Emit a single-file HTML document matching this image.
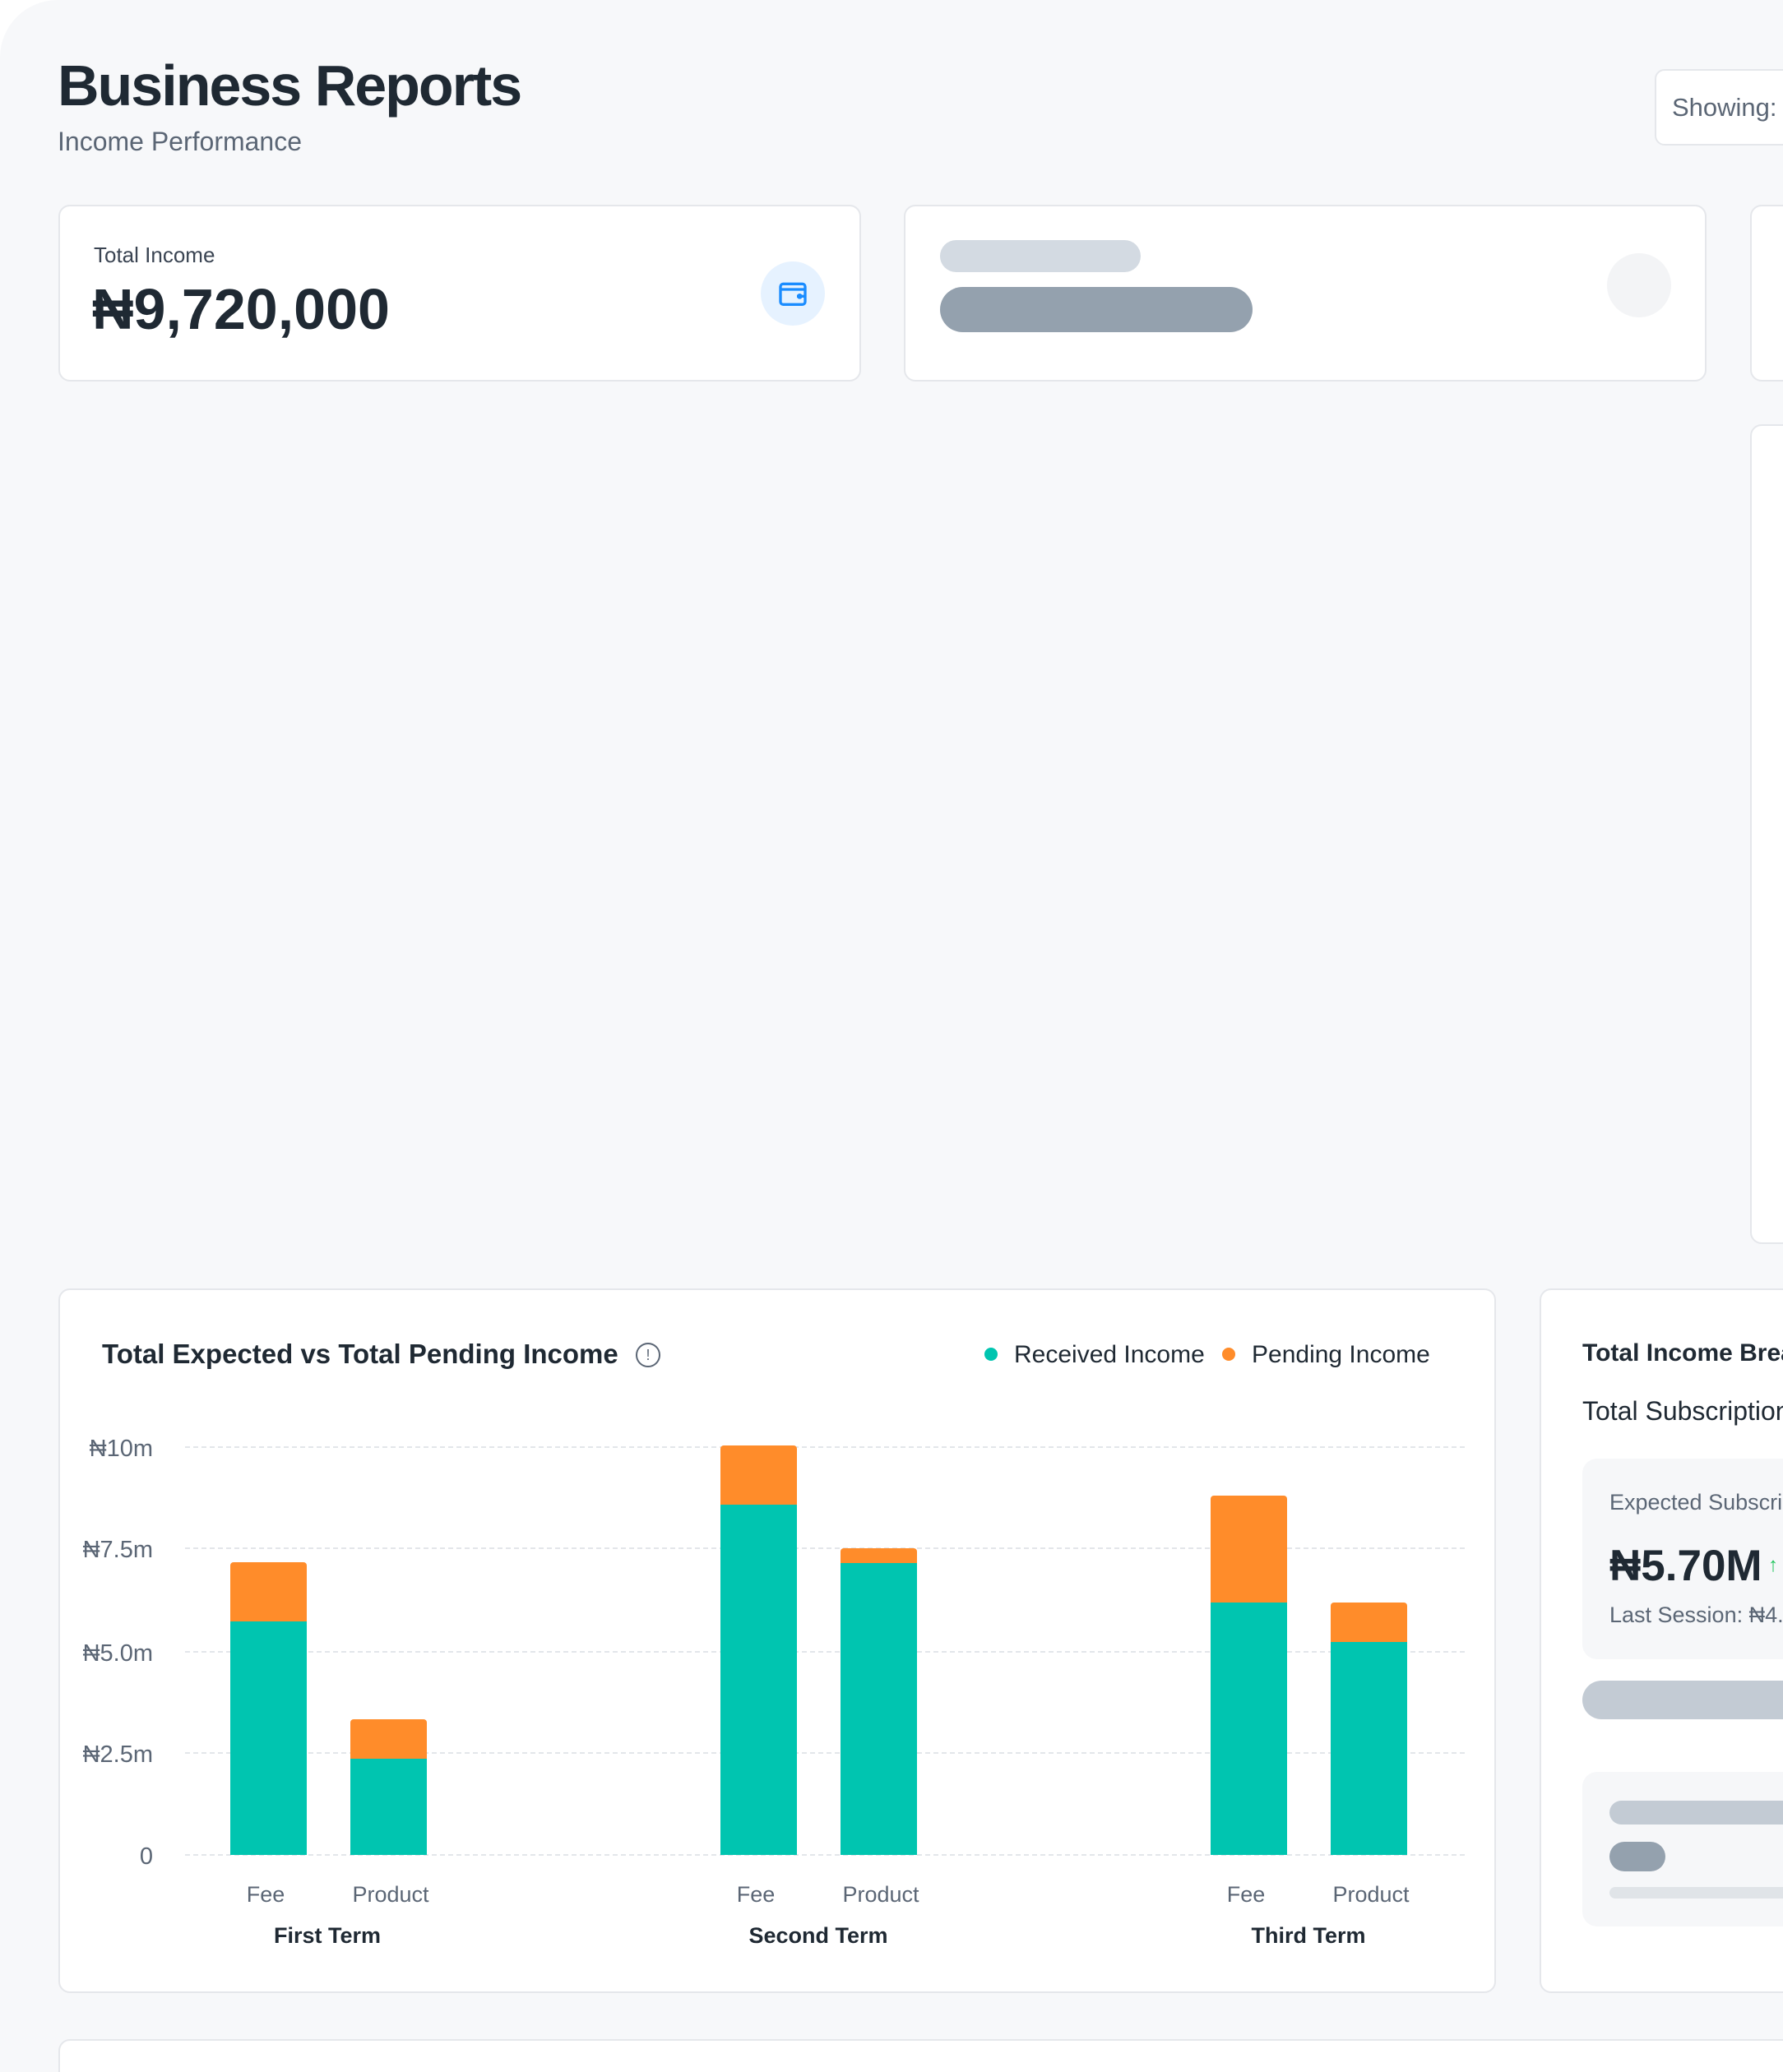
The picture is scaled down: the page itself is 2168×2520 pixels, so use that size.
<!DOCTYPE html>
<html><head><meta charset="utf-8"><style>
*{margin:0;padding:0;box-sizing:border-box}
html,body{width:2168px;height:2520px;overflow:hidden;background:#fff;font-family:"Liberation Sans",sans-serif}
.wrap{position:relative;width:2168px;height:2520px;overflow:hidden}
.page{position:absolute;left:0;top:0;width:2168px;height:2520px;background:#f7f8fa;border-radius:70px 0 0 0;overflow:hidden}
.a{position:absolute}
.card{position:absolute;background:#fff;border:2px solid #e5e7eb;border-radius:14px}
.t{position:absolute;white-space:nowrap}
</style></head><body><div class="wrap"><div class="page">
<div class="t" style="left:70px;top:64px;font-size:70px;font-weight:700;color:#1f2933;letter-spacing:-2px">Business Reports</div>
<div class="t" style="left:70px;top:154px;font-size:32px;color:#5b6675">Income Performance</div>
<div class="card" style="left:2012px;top:84px;width:300px;height:93px;border-radius:12px"></div>
<div class="t" style="left:2033px;top:113px;font-size:31px;color:#5b6675">Showing:</div>

<div class="card" style="left:71px;top:249px;width:976px;height:215px"></div>
<div class="t" style="left:114px;top:295px;font-size:26px;color:#3a4452">Total Income</div>
<div class="t" style="left:112px;top:336px;font-size:70px;font-weight:700;color:#1f2933">₦9,720,000</div>
<div class="a" style="left:925px;top:318px;width:78px;height:78px;border-radius:50%;background:#e6f2ff"></div>
<svg class="a" style="left:944px;top:337px" width="40" height="40" viewBox="0 0 24 24" fill="none" stroke="#1a8cff" stroke-width="2"><rect x="3" y="5" width="18" height="15" rx="2"/><path d="M3 9h18M15 14h6"/><circle cx="17" cy="14" r="1"/></svg>

<div class="card" style="left:1099px;top:249px;width:976px;height:215px"></div>
<div class="a" style="left:1143px;top:292px;width:244px;height:39px;border-radius:20px;background:#d3dae2"></div>
<div class="a" style="left:1143px;top:349px;width:380px;height:55px;border-radius:28px;background:#94a1ae"></div>
<div class="a" style="left:1954px;top:308px;width:78px;height:78px;border-radius:50%;background:#f3f4f6"></div>
<div class="card" style="left:2128px;top:249px;width:200px;height:215px"></div>
<div class="card" style="left:2128px;top:516px;width:200px;height:997px"></div>

<div class="card" style="left:71px;top:1567px;width:1748px;height:857px"></div>
<div class="t" style="left:124px;top:1628px;font-size:33px;font-weight:700;color:#1f2933">Total Expected vs Total Pending Income</div>
<div class="a" style="left:773px;top:1633px;width:30px;height:30px;border-radius:50%;border:2px solid #5b6675;font-size:18px;color:#5b6675;text-align:center;line-height:26px">!</div>
<div class="a" style="left:1197px;top:1639px;width:16px;height:16px;border-radius:50%;background:#00c5b0"></div>
<div class="t" style="left:1233px;top:1631px;font-size:30px;color:#1f2933">Received Income</div>
<div class="a" style="left:1486px;top:1639px;width:16px;height:16px;border-radius:50%;background:#ff8c2a"></div>
<div class="t" style="left:1522px;top:1631px;font-size:30px;color:#1f2933">Pending Income</div>

<svg class="a" style="left:0;top:0" width="2168" height="2520">
<g stroke="#e3e6ea" stroke-width="2" stroke-dasharray="6 4">
<line x1="225" x2="1784" y1="1760" y2="1760"/><line x1="225" x2="1784" y1="1883" y2="1883"/><line x1="225" x2="1784" y1="2009" y2="2009"/><line x1="225" x2="1784" y1="2132" y2="2132"/><line x1="225" x2="1784" y1="2256" y2="2256"/>
</g>
<g fill="#00c5b0">
<rect x="280" y="1972" width="93" height="284"/><rect x="426" y="2139" width="93" height="117"/>
<rect x="876" y="1830" width="93" height="426"/><rect x="1022" y="1901" width="93" height="355"/>
<rect x="1472" y="1949" width="93" height="307"/><rect x="1618" y="1997" width="93" height="259"/>
</g>
<g fill="#ff8c2a">
<path d="M280 1972V1904a4 4 0 0 1 4-4h85a4 4 0 0 1 4 4V1972z"/>
<path d="M426 2139V2095a4 4 0 0 1 4-4h85a4 4 0 0 1 4 4V2139z"/>
<path d="M876 1830V1762a4 4 0 0 1 4-4h85a4 4 0 0 1 4 4V1830z"/>
<path d="M1022 1901V1887a4 4 0 0 1 4-4h85a4 4 0 0 1 4 4V1901z"/>
<path d="M1472 1949V1823a4 4 0 0 1 4-4h85a4 4 0 0 1 4 4V1949z"/>
<path d="M1618 1997V1953a4 4 0 0 1 4-4h85a4 4 0 0 1 4 4V1997z"/>
</g>
<g font-family="Liberation Sans,sans-serif" font-size="29" fill="#5b6675" text-anchor="end">
<text x="186" y="1771">₦10m</text><text x="186" y="1894">₦7.5m</text><text x="186" y="2020">₦5.0m</text><text x="186" y="2143">₦2.5m</text><text x="186" y="2267">0</text>
</g>
<g font-family="Liberation Sans,sans-serif" font-size="27" fill="#5b6675" text-anchor="middle">
<text x="323" y="2313">Fee</text><text x="475" y="2313">Product</text>
<text x="919" y="2313">Fee</text><text x="1071" y="2313">Product</text>
<text x="1515" y="2313">Fee</text><text x="1667" y="2313">Product</text>
</g>
<g font-family="Liberation Sans,sans-serif" font-size="27" font-weight="700" fill="#1f2933" text-anchor="middle">
<text x="398" y="2363">First Term</text><text x="995" y="2363">Second Term</text><text x="1591" y="2363">Third Term</text>
</g>
</svg>

<div class="card" style="left:1872px;top:1567px;width:400px;height:857px"></div>
<div class="t" style="left:1924px;top:1629px;font-size:30px;font-weight:700;color:#1f2933">Total Income Breakdown</div>
<div class="t" style="left:1924px;top:1698px;font-size:32px;color:#1f2933">Total Subscription</div>
<div class="a" style="left:1924px;top:1774px;width:300px;height:244px;border-radius:18px;background:#f6f7f9"></div>
<div class="t" style="left:1957px;top:1812px;font-size:27px;color:#5b6675">Expected Subscription</div>
<div class="t" style="left:1957px;top:1874px;font-size:53px;font-weight:700;color:#1f2933">₦5.70M</div>
<div class="t" style="left:2150px;top:1890px;font-size:24px;color:#22c55e">↑</div>
<div class="t" style="left:1957px;top:1949px;font-size:27px;color:#5b6675">Last Session: ₦4.90M</div>
<div class="a" style="left:1924px;top:2044px;width:300px;height:47px;border-radius:24px;background:#c3cbd4"></div>
<div class="a" style="left:1924px;top:2155px;width:300px;height:188px;border-radius:18px;background:#f6f7f9"></div>
<div class="a" style="left:1957px;top:2190px;width:260px;height:29px;border-radius:15px;background:#c3cbd4"></div>
<div class="a" style="left:1957px;top:2240px;width:68px;height:36px;border-radius:18px;background:#94a1ae"></div>
<div class="a" style="left:1957px;top:2295px;width:260px;height:14px;border-radius:7px;background:#e0e4e8"></div>

<div class="card" style="left:71px;top:2480px;width:2097px;height:60px;border-right:none;border-radius:14px 0 0 0"></div>
</div></div></body></html>
